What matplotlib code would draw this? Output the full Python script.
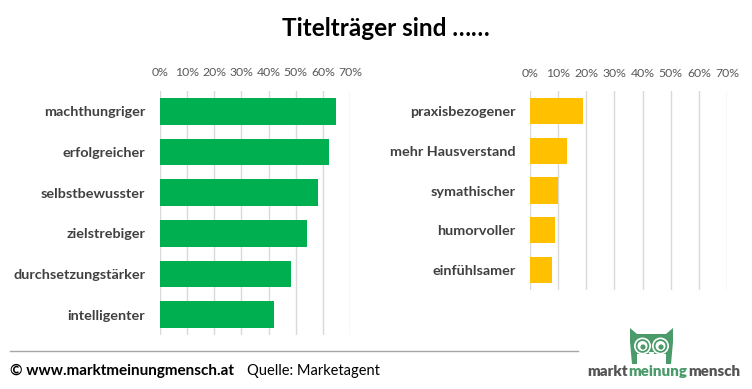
import matplotlib
matplotlib.use("Agg")
import matplotlib.pyplot as plt
from matplotlib.patches import Circle, Polygon
import numpy as np

plt.rcParams['font.family'] = ['Lato', 'DejaVu Sans']

left_cats = ["machthungriger", "erfolgreicher", "selbstbewusster", "zielstrebiger",
             "durchsetzungstärker", "intelligenter"]
left_vals = [0.65, 0.624, 0.582, 0.541, 0.482, 0.42]
right_cats = ["praxisbezogener", "mehr Hausverstand", "symathischer", "humorvoller", "einfühlsamer"]
right_vals = [0.189, 0.132, 0.099, 0.089, 0.078]
ticks = [0, 0.1, 0.2, 0.3, 0.4, 0.5, 0.6, 0.7]
tick_labels = ["0%", "10%", "20%", "30%", "40%", "50%", "60%", "70%"]

W, H = 752, 389
fig = plt.figure(figsize=(W / 100, H / 100), dpi=100)

def make_ax(x0, x1, y0, y1):
    return fig.add_axes([x0 / W, 1 - y1 / H, (x1 - x0) / W, (y1 - y0) / H])

def style(ax, cats, vals, color):
    y = np.arange(len(cats))
    ax.barh(y, vals, height=0.66, color=color, zorder=2)
    ax.set_ylim(len(cats) - 0.5, -0.5)
    ax.set_xlim(0, 0.7)
    ax.set_xticks(ticks)
    ax.set_xticklabels(tick_labels, fontsize=8.8, color="#595959")
    ax.xaxis.tick_top()
    ax.tick_params(axis='x', length=0, pad=9)
    ax.set_yticks(y)
    ax.set_yticklabels(cats, fontsize=10.4, fontweight='bold', color="#404040")
    ax.tick_params(axis='y', length=0, pad=10.5)
    ax.grid(axis='x', color="#d9d9d9", linewidth=1, zorder=0)
    for s in ax.spines.values():
        s.set_visible(False)

axL = make_ax(160, 350, 91, 335)
style(axL, left_cats, left_vals, "#00b050")
axR = make_ax(530, 727, 91, 290)
style(axR, right_cats, right_vals, "#ffc000")

fig.text(386 / W, 1 - 28 / H, "Titelträger sind ……", ha='center', va='center',
         fontsize=17.5, fontweight='bold', color="#000000")

# footer
fig.add_artist(plt.Line2D([10 / W, 578 / W], [1 - 350.5 / H, 1 - 350.5 / H], color="#a6a6a6", linewidth=1))
fig.text(10 / W, 1 - 370.5 / H, "© www.marktmeinungmensch.at", ha='left', va='center',
         fontsize=11, fontweight='bold', color="#000000")
fig.text(247 / W, 1 - 370.5 / H, "Quelle: Marketagent", ha='left', va='center',
         fontsize=10.5, color="#000000")

# logo text
logo_y = 1 - 371 / H
t1 = fig.text(587 / W, logo_y, "markt", ha='left', va='center', fontsize=10.8,
              fontweight='heavy', color="#555555")
fig.canvas.draw()
r = fig.canvas.get_renderer()
bb = t1.get_window_extent(r)
t2 = fig.text(bb.x1 / W + 1 / W, logo_y, "meinung", ha='left', va='center', fontsize=10.8,
              fontweight='heavy', color="#4a9a6a")
bb2 = t2.get_window_extent(r)
fig.text(bb2.x1 / W + 1 / W, logo_y, "mensch", ha='left', va='center', fontsize=10.8,
         fontweight='heavy', color="#555555")

# simple owl
ax_logo = fig.add_axes([625 / W, 1 - 364 / H, 53 / W, 37 / H])
ax_logo.set_xlim(0, 53)
ax_logo.set_ylim(0, 37)
ax_logo.axis('off')
owl = "#4a9a6a"
ax_logo.add_patch(Polygon([[7, 0], [5, 22], [5, 36], [12, 30], [41, 30], [48, 36], [48, 22], [46, 0]],
                          closed=True, facecolor=owl, edgecolor='none'))
ax_logo.add_patch(Polygon([[10, 0], [10, 10], [43, 10], [43, 0]], closed=True,
                          facecolor='white', edgecolor='none'))
for cx in (17.5, 35.5):
    ax_logo.add_patch(Circle((cx, 18), 8.5, facecolor='white', edgecolor='none'))
    ax_logo.add_patch(Circle((cx, 18), 6.8, facecolor=owl, edgecolor='none'))
    ax_logo.add_patch(Circle((cx, 18), 5, facecolor='white', edgecolor='none'))
    ax_logo.add_patch(Circle((cx + 0.5, 17), 2.6, facecolor=owl, edgecolor='none'))
ax_logo.add_patch(Polygon([[23.5, 12], [29.5, 12], [26.5, 6]], closed=True, facecolor='white'))
ax_logo.add_patch(Polygon([[14, 10], [26.5, 4], [39, 10]], closed=True, facecolor='white'))
ax_logo.add_patch(Polygon([[7, 0], [7, 8], [12, 12], [12, 0]], closed=True, facecolor=owl))
ax_logo.add_patch(Polygon([[46, 0], [46, 8], [41, 12], [41, 0]], closed=True, facecolor=owl))

fig.savefig("out.png", dpi=100)
